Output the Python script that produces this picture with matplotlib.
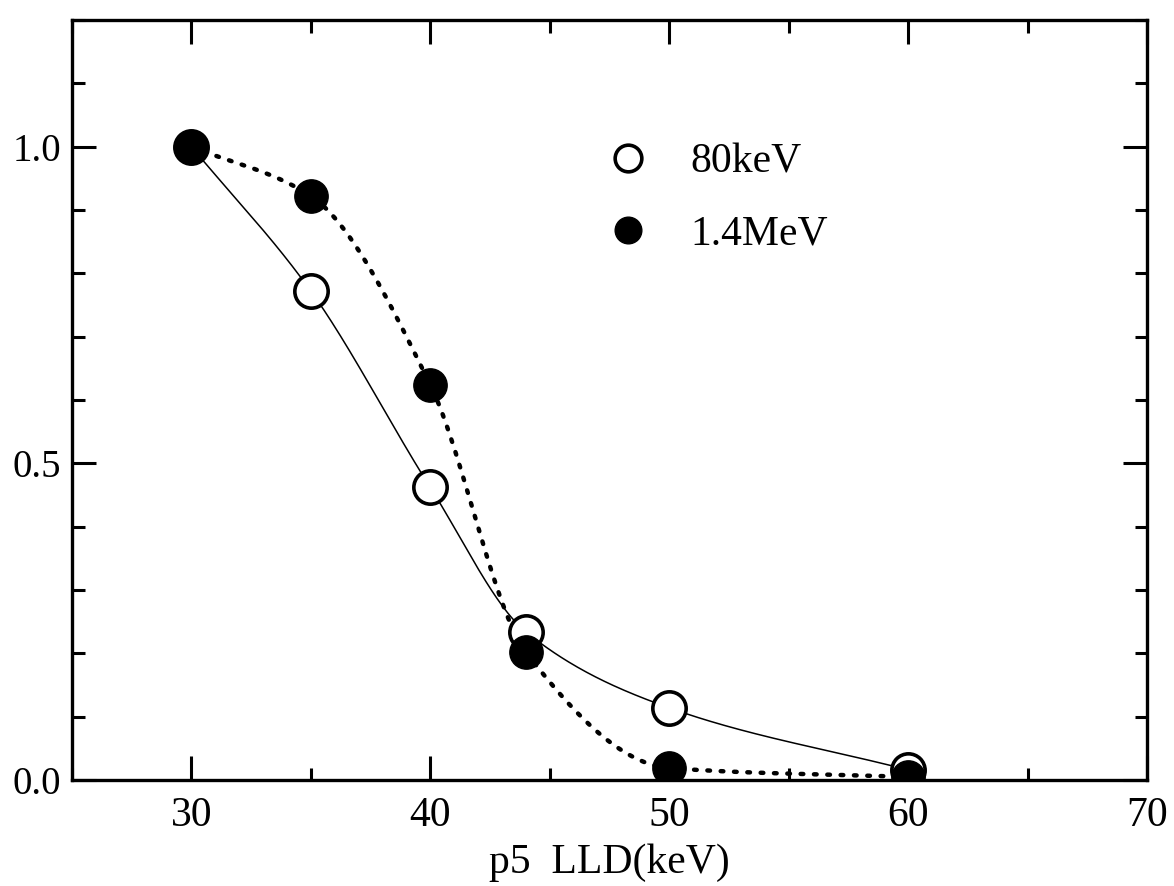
import numpy as np
import matplotlib
matplotlib.use("Agg")
import matplotlib.pyplot as plt
from matplotlib.ticker import MultipleLocator

# data
lld = [30, 35, 40, 44, 50, 60]
kev80 = [1.0, 0.772, 0.462, 0.234, 0.114, 0.016]
mev14 = [1.0, 0.922, 0.624, 0.202, 0.019, 0.005]
labels = ["80keV", "1.4MeV"]


def pchip(x, y, xs):
    # monotone cubic through the points, just for the guide lines
    x = np.asarray(x, float)
    y = np.asarray(y, float)
    h = np.diff(x)
    d = np.diff(y) / h
    n = len(x)
    m = np.zeros(n)
    for k in range(1, n - 1):
        if d[k - 1] * d[k] > 0:
            w1 = 2 * h[k] + h[k - 1]
            w2 = h[k] + 2 * h[k - 1]
            m[k] = (w1 + w2) / (w1 / d[k - 1] + w2 / d[k])
    m[0] = d[0]
    m[-1] = d[-1]
    idx = np.clip(np.searchsorted(x, xs) - 1, 0, n - 2)
    t = (xs - x[idx]) / h[idx]
    h00 = 2 * t**3 - 3 * t**2 + 1
    h10 = t**3 - 2 * t**2 + t
    h01 = -2 * t**3 + 3 * t**2
    h11 = t**3 - t**2
    return (h00 * y[idx] + h10 * h[idx] * m[idx]
            + h01 * y[idx + 1] + h11 * h[idx] * m[idx + 1])


plt.rcParams['font.family'] = ['Liberation Serif', 'DejaVu Serif']

fig = plt.figure(figsize=(11.74, 8.86), dpi=100)
ax = fig.add_axes([0.0613, 0.1196, 0.9157, 0.8578])

xs = np.linspace(lld[0], lld[-1], 400)
ax.plot(xs, pchip(lld, kev80, xs), color='black', lw=1.1, zorder=2)
ax.plot(xs, pchip(lld, mev14, xs), color='black', lw=3.2,
        linestyle=(0, (0.6, 2.4)), dash_capstyle='round', zorder=2)

ax.plot(lld, kev80, 'o', ms=24, mfc='white', mec='black', mew=2.6,
        linestyle='none', zorder=3, label=labels[0])
ax.plot(lld, mev14, 'o', ms=24, mfc='black', mec='black', mew=1,
        linestyle='none', zorder=4, label=labels[1])

ax.set_xlim(25, 70)
ax.set_ylim(0, 1.2)
ax.xaxis.set_major_locator(MultipleLocator(10))
ax.xaxis.set_minor_locator(MultipleLocator(5))
ax.yaxis.set_major_locator(MultipleLocator(0.5))
ax.yaxis.set_minor_locator(MultipleLocator(0.1))
ax.set_xticks([30, 40, 50, 60, 70])
ax.set_yticks([0.0, 0.5, 1.0])
ax.set_yticklabels(['0.0', '0.5', '1.0'])

ax.tick_params(which='both', direction='in', top=True, right=True, width=2.2)
ax.tick_params(which='major', length=17, labelsize=30)
ax.tick_params(which='minor', length=9)
ax.tick_params(axis='x', pad=12)
ax.tick_params(axis='y', pad=8, labelsize=28)
for s in ax.spines.values():
    s.set_linewidth(2.4)

ax.set_xlabel('p5  LLD(keV)', fontsize=30, labelpad=6)

leg = ax.legend(loc='upper left', bbox_to_anchor=(0.49, 0.86), frameon=False,
                fontsize=30, markerscale=0.8, handlelength=0.6,
                handletextpad=1.2, labelspacing=0.8, borderaxespad=0)

fig.savefig('out.png', dpi=100)
